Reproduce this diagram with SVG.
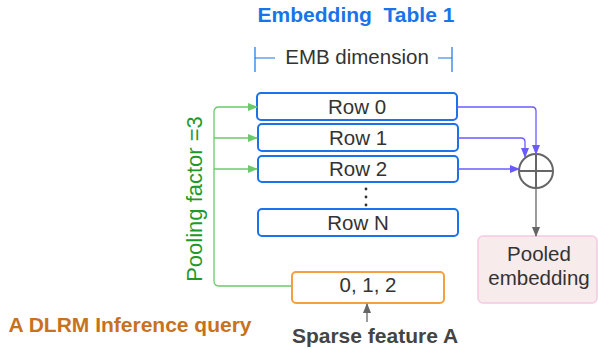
<svg xmlns="http://www.w3.org/2000/svg" width="598" height="349" viewBox="0 0 598 349">
<style>
.row{fill:#fff;stroke:#1a73e8;stroke-width:2}
.t{font-family:"Liberation Sans",Arial,sans-serif;fill:#333;text-anchor:middle;font-size:20.5px}
.g{fill:none;stroke:#6cc96c;stroke-width:1.3}
.p{fill:none;stroke:#6b5bff;stroke-width:1.3}
.k{fill:none;stroke:#666;stroke-width:1.3}
</style>
<defs>
<marker id="ag" markerWidth="10" markerHeight="8" refX="9" refY="4" orient="auto" markerUnits="userSpaceOnUse"><path d="M0,0 L10,4 L0,8 Z" fill="#6cc96c"/></marker>
<marker id="ap" markerWidth="10" markerHeight="8" refX="9" refY="4" orient="auto" markerUnits="userSpaceOnUse"><path d="M0,0 L10,4 L0,8 Z" fill="#6b5bff"/></marker>
<marker id="ak" markerWidth="10" markerHeight="8" refX="9" refY="4" orient="auto" markerUnits="userSpaceOnUse"><path d="M0,0 L10,4 L0,8 Z" fill="#666"/></marker>
</defs>
<text x="356" y="22" font-family="Liberation Sans,Arial,sans-serif" font-weight="bold" font-size="21" fill="#1a73e8" text-anchor="middle" xml:space="preserve">Embedding  Table 1</text>
<g id="emb-dim">
<path d="M255,47 V72 M255,58 H275 M438,58 H452 M452,47 V72" stroke="#1a73e8" stroke-width="1.2" fill="none"/>
<text class="t" x="357" y="64" fill="#111">EMB dimension</text>
</g>
<g id="row0"><rect class="row" x="257" y="93" width="200" height="27" rx="4"/><text class="t" x="357" y="114">Row 0</text></g>
<g id="row1"><rect class="row" x="258" y="124" width="200" height="27" rx="4"/><text class="t" x="358" y="145">Row 1</text></g>
<g id="row2"><rect class="row" x="258" y="156" width="200" height="26" rx="4"/><text class="t" x="358" y="176">Row 2</text></g>
<g id="dots" fill="#333"><circle cx="366" cy="189" r="1.4"/><circle cx="366" cy="197" r="1.4"/><circle cx="366" cy="205" r="1.4"/></g>
<g id="rowN"><rect class="row" x="258" y="209" width="200" height="27" rx="4"/><text class="t" x="358" y="230">Row N</text></g>
<g id="query"><rect x="292" y="272" width="152" height="31" rx="4" fill="#fff" stroke="#f4a040" stroke-width="2"/><text class="t" x="368" y="292" fill="#111">0, 1, 2</text></g>
<g id="sum"><circle cx="536" cy="171" r="17" fill="#fff" stroke="#666" stroke-width="2"/><path d="M519,171 H553 M536,154 V188" stroke="#666" stroke-width="2"/></g>
<g id="pooled"><rect x="478" y="236" width="119" height="67" rx="5" fill="#f8ebec" stroke="#f8c8e4" stroke-width="1.5"/><text class="t" x="539" y="261" fill="#111">Pooled</text><text class="t" x="539" y="285" fill="#111">embedding</text></g>
<g id="connectors">
<path class="g" d="M291,286 H219 Q214,286 214,281 V112 Q214,107 219,107 H257" marker-end="url(#ag)"/>
<path class="g" d="M214,138 H257" marker-end="url(#ag)"/>
<path class="g" d="M214,169 H257" marker-end="url(#ag)"/>
<path class="p" d="M457,107 H532 Q536,107 536,111 V154" marker-end="url(#ap)"/>
<path class="p" d="M458,138 H521 Q525,138 525,142 V157" marker-end="url(#ap)"/>
<path class="p" d="M458,169 H519" marker-end="url(#ap)"/>
<path class="k" d="M536,188 V236" marker-end="url(#ak)"/>
<path class="k" d="M367,322 V304" marker-end="url(#ak)"/>
</g>
<text x="0" y="0" transform="translate(202,199) rotate(-90)" font-family="Liberation Sans,Arial,sans-serif" font-size="22" fill="#1f9a2a" text-anchor="middle">Pooling factor =3</text>
<text x="130" y="332" font-family="Liberation Sans,Arial,sans-serif" font-weight="bold" font-size="21" fill="#c8711e" text-anchor="middle">A DLRM Inference query</text>
<text x="375" y="343" font-family="Liberation Sans,Arial,sans-serif" font-weight="bold" font-size="21" fill="#444" text-anchor="middle">Sparse feature A</text>
</svg>
